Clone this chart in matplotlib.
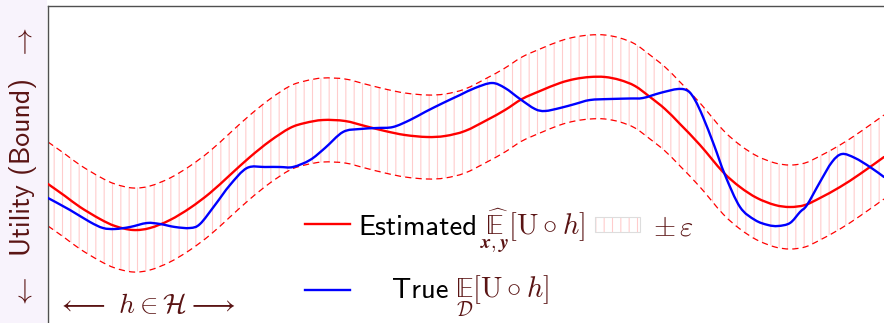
import numpy as np
import matplotlib
matplotlib.use("Agg")
import matplotlib.pyplot as plt
from matplotlib.patches import Rectangle, PathPatch
from matplotlib.lines import Line2D
from matplotlib.path import Path

# ---------------- data ----------------
# hypothesis axis h (arbitrary units, left spine = 0) and utility (arbitrary units)
h_est = np.array([0, 17, 32, 52, 67, 85, 102, 122, 142, 162,
                  182, 202, 222, 242, 257, 275, 297, 317, 337, 357,
                  379, 397, 417, 439, 457, 474, 492, 512, 527, 542,
                  557, 572, 587, 602, 617, 632, 652, 675, 692, 709,
                  727, 742, 757, 772, 792, 812, 836])
u_est = np.array([139, 127, 116, 104, 97, 93, 95, 103, 115, 130,
                  148, 166, 182, 195, 200, 203, 202, 197, 192, 188,
                  186, 187, 192, 203, 213, 224, 232, 240, 244, 246,
                  246, 243, 237, 226, 214, 199, 178, 151, 136, 125,
                  118, 116, 118, 125, 136, 149, 166])

h_true = np.array([0, 22, 42, 55, 67, 82, 99, 112, 127, 142,
                   152, 167, 182, 199, 217, 232, 245, 262, 277, 295,
                   312, 329, 345, 362, 377, 395, 412, 427, 444, 457,
                   472, 487, 497, 512, 527, 542, 562, 582, 595, 612,
                   630, 640, 647, 655, 666, 677, 692, 707, 720, 730,
                   742, 752, 759, 772, 784, 794, 807, 822, 836])
u_true = np.array([125, 113, 101, 95, 94, 96, 100, 99, 96, 95,
                   99, 118, 138, 155, 156, 156, 156, 163, 175, 191,
                   194, 195, 196, 203, 211, 220, 228, 235, 240, 235,
                   224, 214, 212, 215, 219, 223, 224, 224.5, 225, 230,
                   234, 232, 223, 206, 178, 148, 116, 103, 98, 97,
                   100, 111, 118, 141, 161, 169, 165, 156, 146])

epsilon = 42

label_est = "Estimated"
math_est = r"$\underset{\boldsymbol{x},\boldsymbol{y}}{\widehat{\mathrm{𝔼}}}[\mathrm{U}\circ h]$"
label_true = "True"
math_true = r"$\underset{\mathcal{D}}{\mathrm{𝔼}}[\mathrm{U}\circ h]$"
label_eps = r"$\pm\,\varepsilon$"
ylabel_text = "Utility (Bound)"
xlabel_text = r"$\longleftarrow\ h \in \mathcal{H} \longrightarrow$"

# ---------------- style ----------------
W, H = 884, 323
maroon = "#5a1414"
plt.rcParams["mathtext.fontset"] = "cm"
plt.rcParams["lines.scale_dashes"] = False
plt.rcParams["hatch.linewidth"] = 0.8


def fx(x):
    return x / W


def fy(y):
    return 1 - y / H


def smooth_path(x, y):
    """Catmull-Rom curve through the given points, expressed as cubic Beziers."""
    pts = np.column_stack([x, y]).astype(float)
    ext = np.vstack([pts[0], pts, pts[-1]])
    verts = [pts[0]]
    codes = [Path.MOVETO]
    for i in range(1, len(ext) - 2):
        p0, p1, p2, p3 = ext[i - 1], ext[i], ext[i + 1], ext[i + 2]
        c1 = p1 + (p2 - p0) / 6.0
        c2 = p2 - (p3 - p1) / 6.0
        verts += [c1, c2, p2]
        codes += [Path.CURVE4] * 3
    return Path(np.array(verts), codes)


fig = plt.figure(figsize=(W / 100, H / 100), dpi=100)
fig.patch.set_facecolor("white")
fig.patches.append(Rectangle((0, 0), 47 / W, 1, transform=fig.transFigure,
                             facecolor="#f8f3fc", edgecolor="none", zorder=0))

ax = fig.add_axes([48 / W, 0, 836 / W, 317 / H])
ax.set_xlim(0, 836)
ax.set_ylim(0, 317)
ax.set_xticks([])
ax.set_yticks([])
for s in ("right", "bottom"):
    ax.spines[s].set_visible(False)
for s in ("left", "top"):
    ax.spines[s].set_color("#505050")
    ax.spines[s].set_linewidth(1.0)

band_color = "#ffcccc"
ax.fill_between(h_est, u_est - epsilon, u_est + epsilon, facecolor="none",
                edgecolor=band_color, hatch="||", linewidth=0, zorder=1)
for sign in (1, -1):
    ax.add_patch(PathPatch(smooth_path(h_est, u_est + sign * epsilon), facecolor="none",
                           edgecolor="red", lw=0.9, linestyle=(0, (4.5, 3)), zorder=2))
ax.add_patch(PathPatch(smooth_path(h_est, u_est), facecolor="none",
                       edgecolor="#ff0000", lw=1.7, zorder=3, capstyle="round"))
ax.add_patch(PathPatch(smooth_path(h_true, u_true), facecolor="none",
                       edgecolor="#0000ff", lw=1.7, zorder=4, capstyle="round"))

# ---------------- legend (manual) ----------------
fig.add_artist(Line2D([fx(305), fx(350)], [fy(224)] * 2, transform=fig.transFigure,
                      color="#ff0000", lw=1.7))
fig.add_artist(Line2D([fx(305), fx(350)], [fy(290)] * 2, transform=fig.transFigure,
                      color="#0000ff", lw=1.7))
fig.text(fx(358), fy(235), label_est, family="cmss10", size=20.5, color="black",
         va="baseline")
fig.text(fx(480), fy(235), math_est, size=20.5, color=maroon, va="baseline")
fig.patches.append(Rectangle((fx(595), fy(232)), 45 / W, 15 / H, transform=fig.transFigure,
                             facecolor="none", edgecolor=band_color, hatch="||", lw=0))
fig.patches.append(Rectangle((fx(595), fy(232)), 45 / W, 15 / H, transform=fig.transFigure,
                             facecolor="none", edgecolor="#dddddd", lw=0.8))
fig.text(fx(653), fy(235), label_eps, size=20.5, color=maroon, va="baseline")
fig.text(fx(392), fy(298), label_true, family="cmss10", size=20.5, color="black",
         va="baseline")
fig.text(fx(455), fy(298), math_true, size=20.5, color=maroon, va="baseline")

# ---------------- axis labels ----------------
fig.text(fx(23), fy(167), ylabel_text, family="cmss10", size=20, rotation=90,
         ha="center", va="center", color=maroon)
fig.text(fx(23), fy(291), r"$\downarrow$", size=20, ha="center", va="center", color=maroon)
fig.text(fx(23), fy(41), r"$\uparrow$", size=20, ha="center", va="center", color=maroon)
fig.text(fx(57), fy(313), xlabel_text, size=20, color=maroon, va="baseline")

fig.savefig("out.png", dpi=100)
